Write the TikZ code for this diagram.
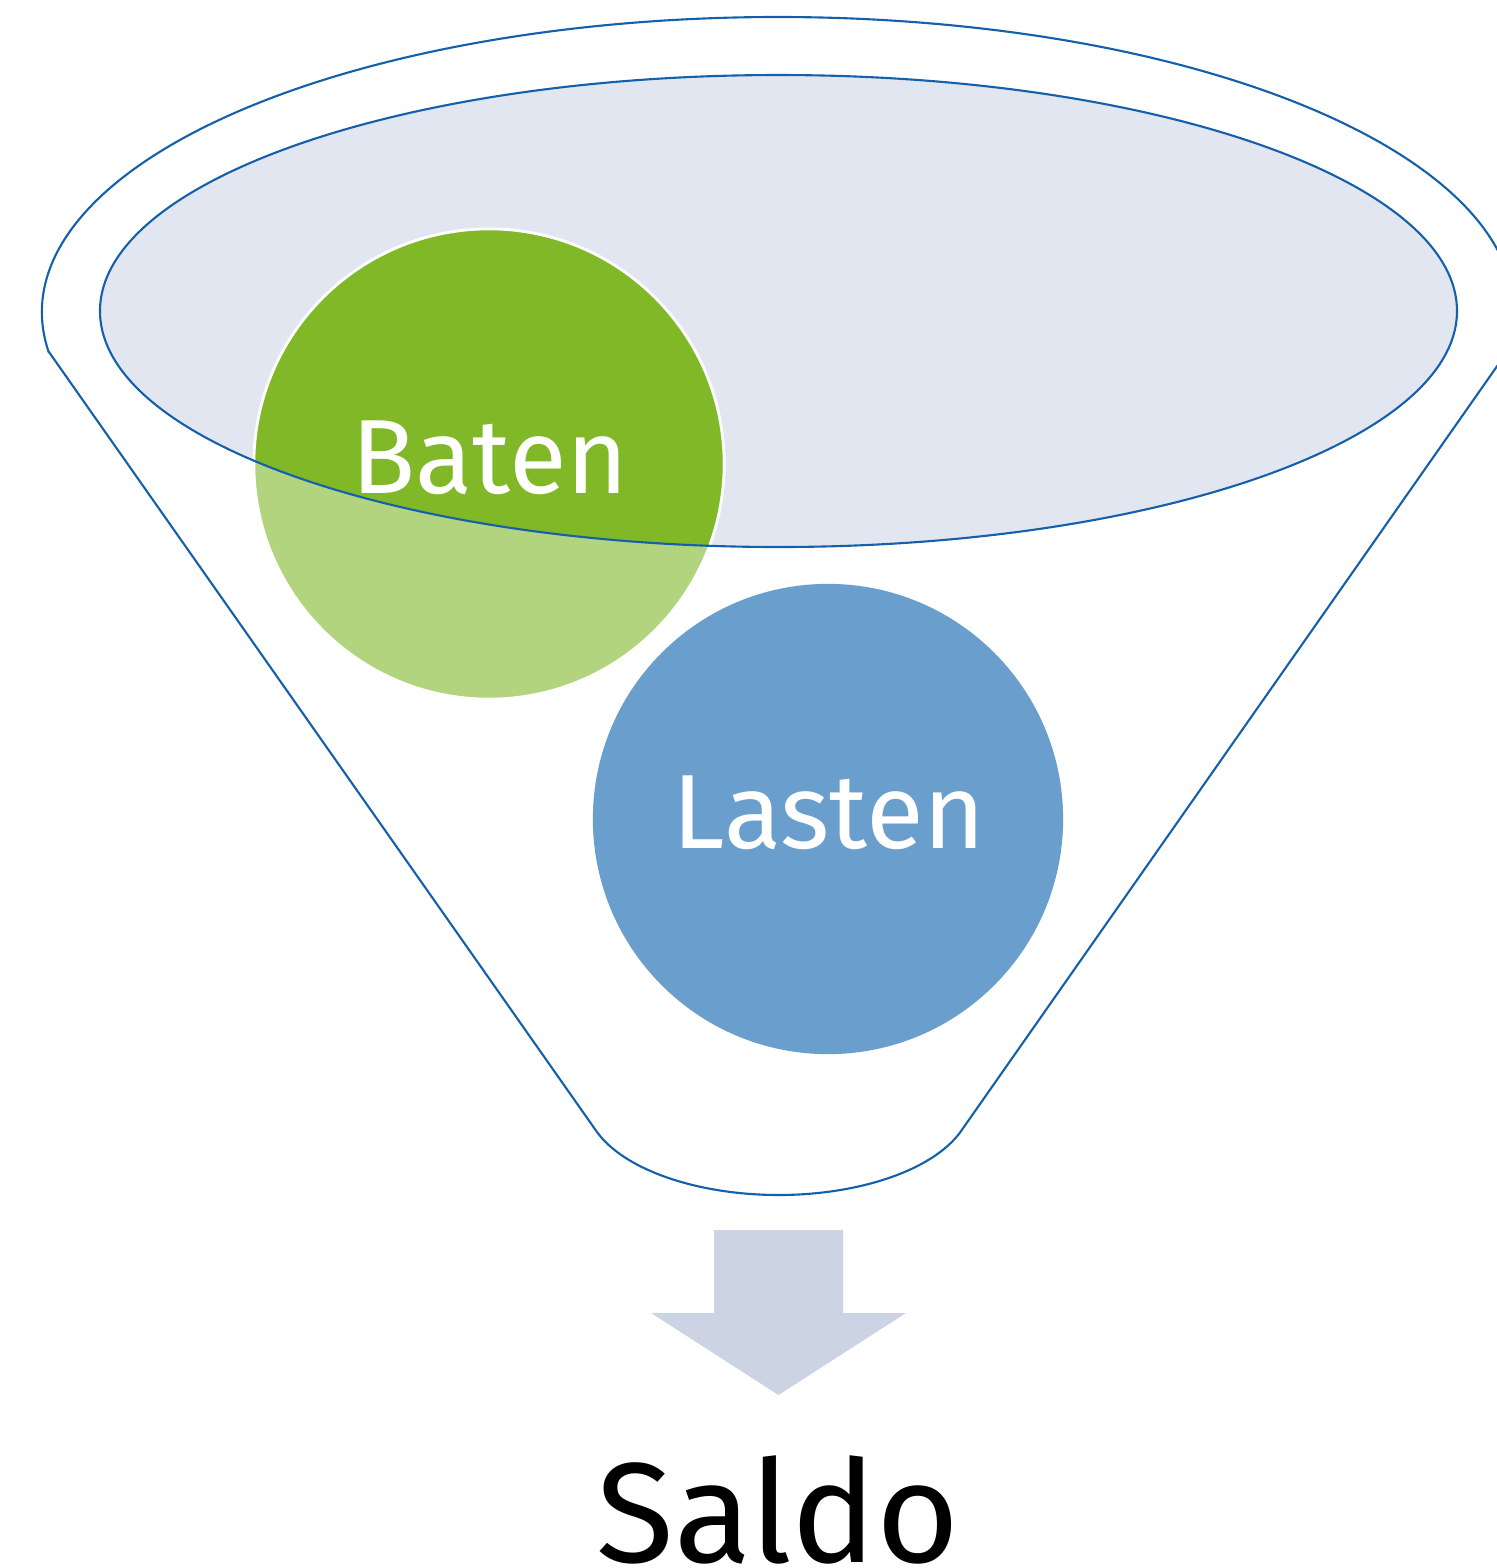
\documentclass[tikz,border=0pt]{standalone}
\usepackage{fontspec}
\setmainfont{Fira Sans}
\usepackage{xcolor}
\usepackage{tikz}
\definecolor{funnelblue}{RGB}{21,96,170}
\definecolor{rimfill}{RGB}{226,230,240}
\definecolor{batengreen}{RGB}{128,184,40}
\definecolor{lastenblue}{RGB}{106,159,205}
\definecolor{arrowgrey}{RGB}{204,211,227}

\begin{document}
\begin{tikzpicture}[x=0.01cm,y=-0.01cm,
    rim/.style={draw=funnelblue,line width=0.6pt},
    ball/.style={circle,minimum size=4.7cm,inner sep=0pt},
    balltext/.style={text=white,anchor=base,font=\fontsize{30}{36}\selectfont}]
    \useasboundingbox (0,0) rectangle (1497,1568);
    %
    \fill[rimfill] (778.5,311) ellipse[x radius=678.5,y radius=236];
    \node[ball,fill=batengreen,draw=white,line width=0.8pt] (baten) at (489,464) {};
    % funnel body lightens what lies below the rim
    \fill[white,fill opacity=0.4,even odd rule] (49,352) -- (597,1132)
      arc[start angle=160.3,end angle=19.7,x radius=193,y radius=95]
      -- (1507,352)
      arc[start angle=367.8,end angle=172.2,x radius=736,y radius=295] -- cycle
      (778.5,311) ellipse[x radius=678.5,y radius=236];
    \node[ball,fill=lastenblue] (lasten) at (828,819) {};
    %
    \draw[rim] (49,352) -- (597,1132)
      arc[start angle=160.3,end angle=19.7,x radius=193,y radius=95]
      -- (1507,352)
      arc[start angle=367.8,end angle=172.2,x radius=736,y radius=295] -- cycle;
    \draw[rim] (778.5,311) ellipse[x radius=678.5,y radius=236];
    %
    \node[balltext] (batenlabel) at (490,493) {Baten};
    \node[balltext] (lastenlabel) at (829,848) {Lasten};
    %
    \fill[arrowgrey] (714,1230) -- (843,1230) -- (843,1313) -- (906,1313)
      -- (778.5,1395) -- (651,1313) -- (714,1313) -- cycle;
    \node[anchor=base,font=\fontsize{40.5}{48}\selectfont] (saldo) at (778,1562) {Saldo};
  \end{tikzpicture}
\end{document}
